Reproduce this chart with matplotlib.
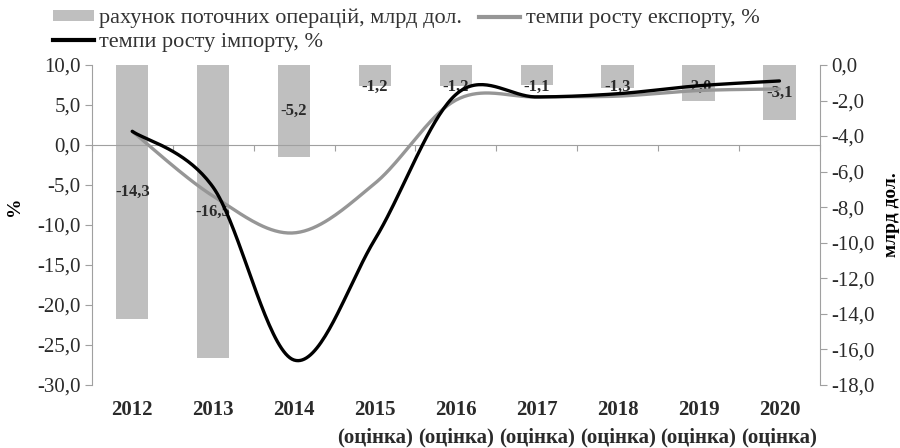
import numpy as np
import matplotlib
matplotlib.use("Agg")
import matplotlib.pyplot as plt
from matplotlib.patches import Patch
from matplotlib.lines import Line2D

plt.rcParams['font.family'] = ['Liberation Serif', 'DejaVu Serif']

years = ['2012', '2013', '2014', '2015', '2016', '2017', '2018', '2019', '2020']
estimate = ['', '', '', '(оцінка)', '(оцінка)', '(оцінка)', '(оцінка)', '(оцінка)', '(оцінка)']
current_account = [-14.3, -16.5, -5.2, -1.2, -1.2, -1.1, -1.3, -2.0, -3.1]
export_growth = [1.7, -6.4, -11.0, -4.8, 5.6, 6.0, 6.1, 6.8, 7.0]
import_growth = [1.7, -5.3, -26.9, -11.8, 6.3, 6.0, 6.4, 7.4, 8.0]


def smooth(x, y, n=40):
    # Bezier smoothing through every point, tension 1/6 like office charts
    x = np.asarray(x, float)
    y = np.asarray(y, float)
    px, py = [], []
    for i in range(len(x) - 1):
        i0 = max(i - 1, 0)
        i3 = min(i + 2, len(x) - 1)
        p0 = np.array([x[i], y[i]])
        p3 = np.array([x[i + 1], y[i + 1]])
        p1 = p0 + (p3 - np.array([x[i0], y[i0]])) / 6
        p2 = p3 - (np.array([x[i3], y[i3]]) - p0) / 6
        t = np.linspace(0, 1, n)[:, None]
        c = ((1 - t) ** 3) * p0 + 3 * ((1 - t) ** 2) * t * p1 + 3 * (1 - t) * t ** 2 * p2 + t ** 3 * p3
        px.extend(c[:, 0])
        py.extend(c[:, 1])
    return px, py


fig = plt.figure(figsize=(9, 4.48), dpi=100)
ax = fig.add_axes([0.102, 0.141, 0.809, 0.714])
ax2 = ax.twinx()
ax.set_zorder(ax2.get_zorder() + 1)
ax.patch.set_visible(False)

xs = np.arange(len(years))
bar_color = '#bfbfbf'
axis_color = '#a0a0a0'
text_color = '#2a2a2a'

# bars on the secondary axis
ax2.bar(xs, current_account, width=0.4, color=bar_color, zorder=1)
ax2.set_ylim(-18, 0)
ax2.set_yticks(np.arange(-18, 0.1, 2))
ax2.set_yticklabels([f'{v:.1f}'.replace('.', ',') for v in np.arange(-18, 0.1, 2)])
for x, v in zip(xs, current_account):
    ax2.text(x, min(v / 2, -1.25), f'{v:.1f}'.replace('.', ','), ha='center', va='center',
             fontsize=12, fontweight='bold', color=text_color, zorder=2)

# growth rates on the primary axis
ex_x, ex_y = smooth(xs, export_growth)
im_x, im_y = smooth(xs, import_growth)
ax.plot(ex_x, ex_y, color='#969696', lw=2.4, zorder=3, solid_capstyle='round')
ax.plot(im_x, im_y, color='black', lw=2.4, zorder=4, solid_capstyle='round')

ax.set_ylim(-30, 10)
ax.set_xlim(-0.5, len(years) - 0.5)
ax.set_yticks(np.arange(-30, 10.1, 5))
ax.set_yticklabels([f'{v:.1f}'.replace('.', ',') for v in np.arange(-30, 10.1, 5)])

# zero line with category separators
ax.spines['bottom'].set_position(('data', 0))
ax.set_xticks(np.arange(-0.5, len(years), 1))
ax.set_xticklabels([])
ax.tick_params(axis='x', length=4, color=axis_color, direction='out')

for a in (ax, ax2):
    a.spines['top'].set_visible(False)
    for s in ('left', 'right', 'bottom'):
        a.spines[s].set_color(axis_color)
ax.spines['right'].set_visible(False)
ax2.spines['left'].set_visible(False)
ax2.spines['bottom'].set_visible(False)
ax.tick_params(axis='y', length=5, color=axis_color, labelsize=15, labelcolor=text_color, pad=3)
ax2.tick_params(axis='y', length=5, color=axis_color, labelsize=15, labelcolor=text_color, pad=3)

# category labels under the plot
for x, yr, est in zip(xs, years, estimate):
    ax.text(x, -0.078, yr, transform=ax.get_xaxis_transform(), ha='center', va='center',
            fontsize=15, fontweight='bold', color=text_color)
    if est:
        ax.text(x, -0.165, est, transform=ax.get_xaxis_transform(), ha='center', va='center',
                fontsize=15, fontweight='bold', color=text_color)

fig.text(0.016, 0.54, '%', rotation=90, ha='center', va='center', fontsize=14, fontweight='bold')
fig.text(0.99, 0.52, 'млрд дол.', rotation=90, ha='center', va='center', fontsize=14, fontweight='bold')

handles = [Patch(facecolor=bar_color, edgecolor='none'),
           Line2D([], [], color='black', lw=3),
           Line2D([], [], color='#969696', lw=3)]
labels = ['рахунок поточних операцій, млрд дол.', 'темпи росту імпорту, %', 'темпи росту експорту, %']
fig.legend(handles, labels, ncol=2, loc='upper left', bbox_to_anchor=(0.056, 0.985),
           frameon=False, fontsize=16, handlelength=1.85, handleheight=0.35, handletextpad=0.25,
           labelspacing=0.2, columnspacing=0.75, borderaxespad=0, borderpad=0.1,
           labelcolor='#333333')

fig.savefig('out.png', dpi=100)
